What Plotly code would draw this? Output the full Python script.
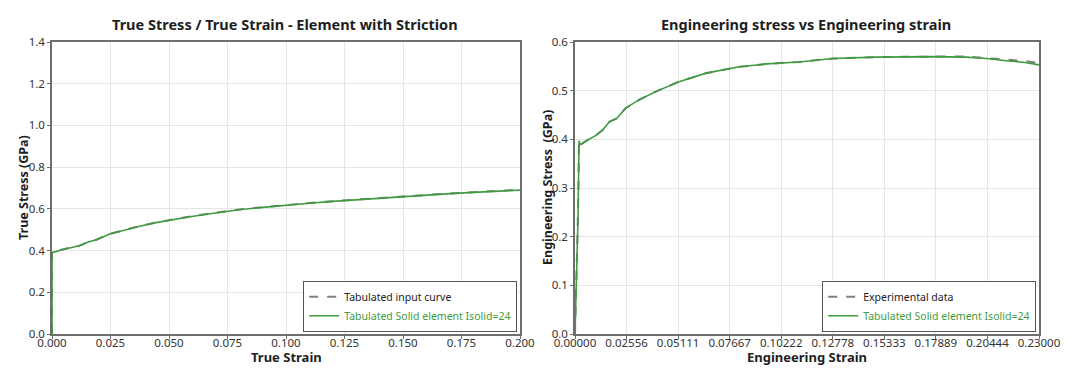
import plotly.graph_objects as go

# ---- Left: true stress / true strain ----
true_strain_input = [0.0, 0.0, 0.004, 0.008, 0.012, 0.0155, 0.019, 0.0247, 0.03, 0.0375, 0.045, 0.052,
                     0.059, 0.066, 0.073, 0.080, 0.09, 0.10, 0.11, 0.12, 0.13, 0.14, 0.15, 0.16,
                     0.17, 0.18, 0.19, 0.20]
true_stress_input = [0.0, 0.392, 0.404, 0.414, 0.425, 0.442, 0.452, 0.480, 0.497, 0.518, 0.536, 0.551,
                     0.563, 0.575, 0.587, 0.597, 0.608, 0.619, 0.628, 0.637, 0.645, 0.652, 0.660, 0.667,
                     0.674, 0.680, 0.686, 0.692]
true_strain_sim = list(true_strain_input)
true_stress_sim = [0.0, 0.390, 0.403, 0.413, 0.424, 0.441, 0.452, 0.479, 0.496, 0.517, 0.535, 0.550,
                   0.562, 0.574, 0.586, 0.596, 0.607, 0.618, 0.627, 0.636, 0.644, 0.651, 0.659, 0.666,
                   0.673, 0.679, 0.685, 0.690]

# ---- Right: engineering stress / engineering strain ----
eng_strain_exp = [0.0, 0.0015, 0.002, 0.0025, 0.006, 0.010, 0.0137, 0.017, 0.0207, 0.0251, 0.0317,
                  0.040, 0.0512, 0.065, 0.0815, 0.095, 0.111, 0.1278, 0.149, 0.165, 0.177, 0.194,
                  0.204, 0.215, 0.223, 0.23]
eng_stress_exp = [0.0, 0.25, 0.396, 0.388, 0.398, 0.407, 0.419, 0.436, 0.443, 0.464, 0.481,
                  0.498, 0.518, 0.536, 0.549, 0.555, 0.559, 0.566, 0.569, 0.570, 0.570, 0.570,
                  0.567, 0.564, 0.561, 0.557]
eng_strain_sim = list(eng_strain_exp)
eng_stress_sim = [0.0, 0.24, 0.397, 0.389, 0.398, 0.407, 0.419, 0.436, 0.443, 0.464, 0.481,
                  0.498, 0.518, 0.536, 0.549, 0.555, 0.559, 0.566, 0.569, 0.570, 0.570, 0.569,
                  0.566, 0.561, 0.558, 0.553]

left_xticks = [0.0, 0.025, 0.05, 0.075, 0.1, 0.125, 0.15, 0.175, 0.2]
left_yticks = [0.0, 0.2, 0.4, 0.6, 0.8, 1.0, 1.2, 1.4]
right_xticks = [0.0, 0.02556, 0.05111, 0.07667, 0.10222, 0.12778, 0.15333, 0.17889, 0.20444, 0.23]
right_yticks = [0.0, 0.1, 0.2, 0.3, 0.4, 0.5, 0.6]

GRAY = "#7f7f7f"
GREEN = "#3f9b3f"
FONT = "Noto Sans"

fig = go.Figure()
fig.add_trace(go.Scatter(x=true_strain_input, y=true_stress_input, mode="lines",
                         name="Tabulated input curve", line=dict(color=GRAY, width=2, dash="dash"),
                         xaxis="x", yaxis="y", legend="legend"))
fig.add_trace(go.Scatter(x=true_strain_sim, y=true_stress_sim, mode="lines",
                         name="<span style='color:%s'>Tabulated Solid element Isolid=24</span>" % GREEN,
                         line=dict(color=GREEN, width=1.6),
                         xaxis="x", yaxis="y", legend="legend"))
fig.add_trace(go.Scatter(x=eng_strain_exp, y=eng_stress_exp, mode="lines",
                         name="Experimental data", line=dict(color=GRAY, width=2, dash="dash"),
                         xaxis="x2", yaxis="y2", legend="legend2"))
fig.add_trace(go.Scatter(x=eng_strain_sim, y=eng_stress_sim, mode="lines",
                         name="<span style='color:%s'>Tabulated Solid element Isolid=24</span>" % GREEN,
                         line=dict(color=GREEN, width=1.6),
                         xaxis="x2", yaxis="y2", legend="legend2"))

W, H = 1075, 376
def px(x):
    return x / W
def py(y):
    return 1 - y / H

axis_common = dict(showline=True, linecolor="#6e6e6e", linewidth=1.5, mirror=True,
                   showgrid=True, gridcolor="#e6e6e6", gridwidth=1, zeroline=False,
                   ticks="outside", ticklen=3, tickcolor="#6e6e6e", automargin=False,
                   tickfont=dict(family=FONT, size=11.5, color="#333333"))

def label(text, x, y, size, angle=0):
    return dict(text=text, x=px(x), y=py(y), xref="paper", yref="paper", showarrow=False,
                xanchor="center", yanchor="middle", textangle=angle,
                font=dict(family=FONT, size=size, color="#1e1e1e"))

legend_common = dict(yanchor="bottom", xanchor="right", bgcolor="white", bordercolor="#555555",
                     borderwidth=1.2, font=dict(family=FONT, size=10.5, color="#222222"),
                     tracegroupgap=0, itemwidth=30)

fig.update_layout(
    width=W, height=H,
    margin=dict(l=0, r=0, t=0, b=0, autoexpand=False),
    paper_bgcolor="white", plot_bgcolor="white",
    font=dict(family=FONT, color="#222222"),
    xaxis=dict(domain=[px(52), px(520)], range=[0, 0.2], tickvals=left_xticks, tickformat=".3f",
               anchor="y", ticklabelstandoff=-6, **axis_common),
    yaxis=dict(domain=[py(334), py(42)], range=[0, 1.4], tickvals=left_yticks, tickformat=".1f",
               anchor="x", **axis_common),
    xaxis2=dict(domain=[px(575), px(1039)], range=[0, 0.23], tickvals=right_xticks, tickformat=".5f",
                anchor="y2", ticklabelstandoff=-6, **axis_common),
    yaxis2=dict(domain=[py(334), py(42)], range=[0, 0.6], tickvals=right_yticks, tickformat=".1f",
                anchor="x2", **axis_common),
    legend=dict(x=px(517), y=py(332), **legend_common),
    legend2=dict(x=px(1036), y=py(332), **legend_common),
    annotations=[
        label("<b>True Stress / True Strain - Element with Striction</b>", 285, 24, 14.5),
        label("<b>Engineering stress vs Engineering strain</b>", 806, 24, 14.5),
        label("<b>True Strain</b>", 286, 357, 13),
        label("<b>Engineering Strain</b>", 807, 357, 13),
        label("<b>True Stress (GPa)</b>", 23, 188, 12.5, -90),
        label("<b>Engineering Stress  (GPa)</b>", 547, 188, 12.5, -90),
    ],
    showlegend=True,
)

fig.write_html("out.html", config={"displayModeBar": False},
               post_script="document.body.style.margin='0px';")
